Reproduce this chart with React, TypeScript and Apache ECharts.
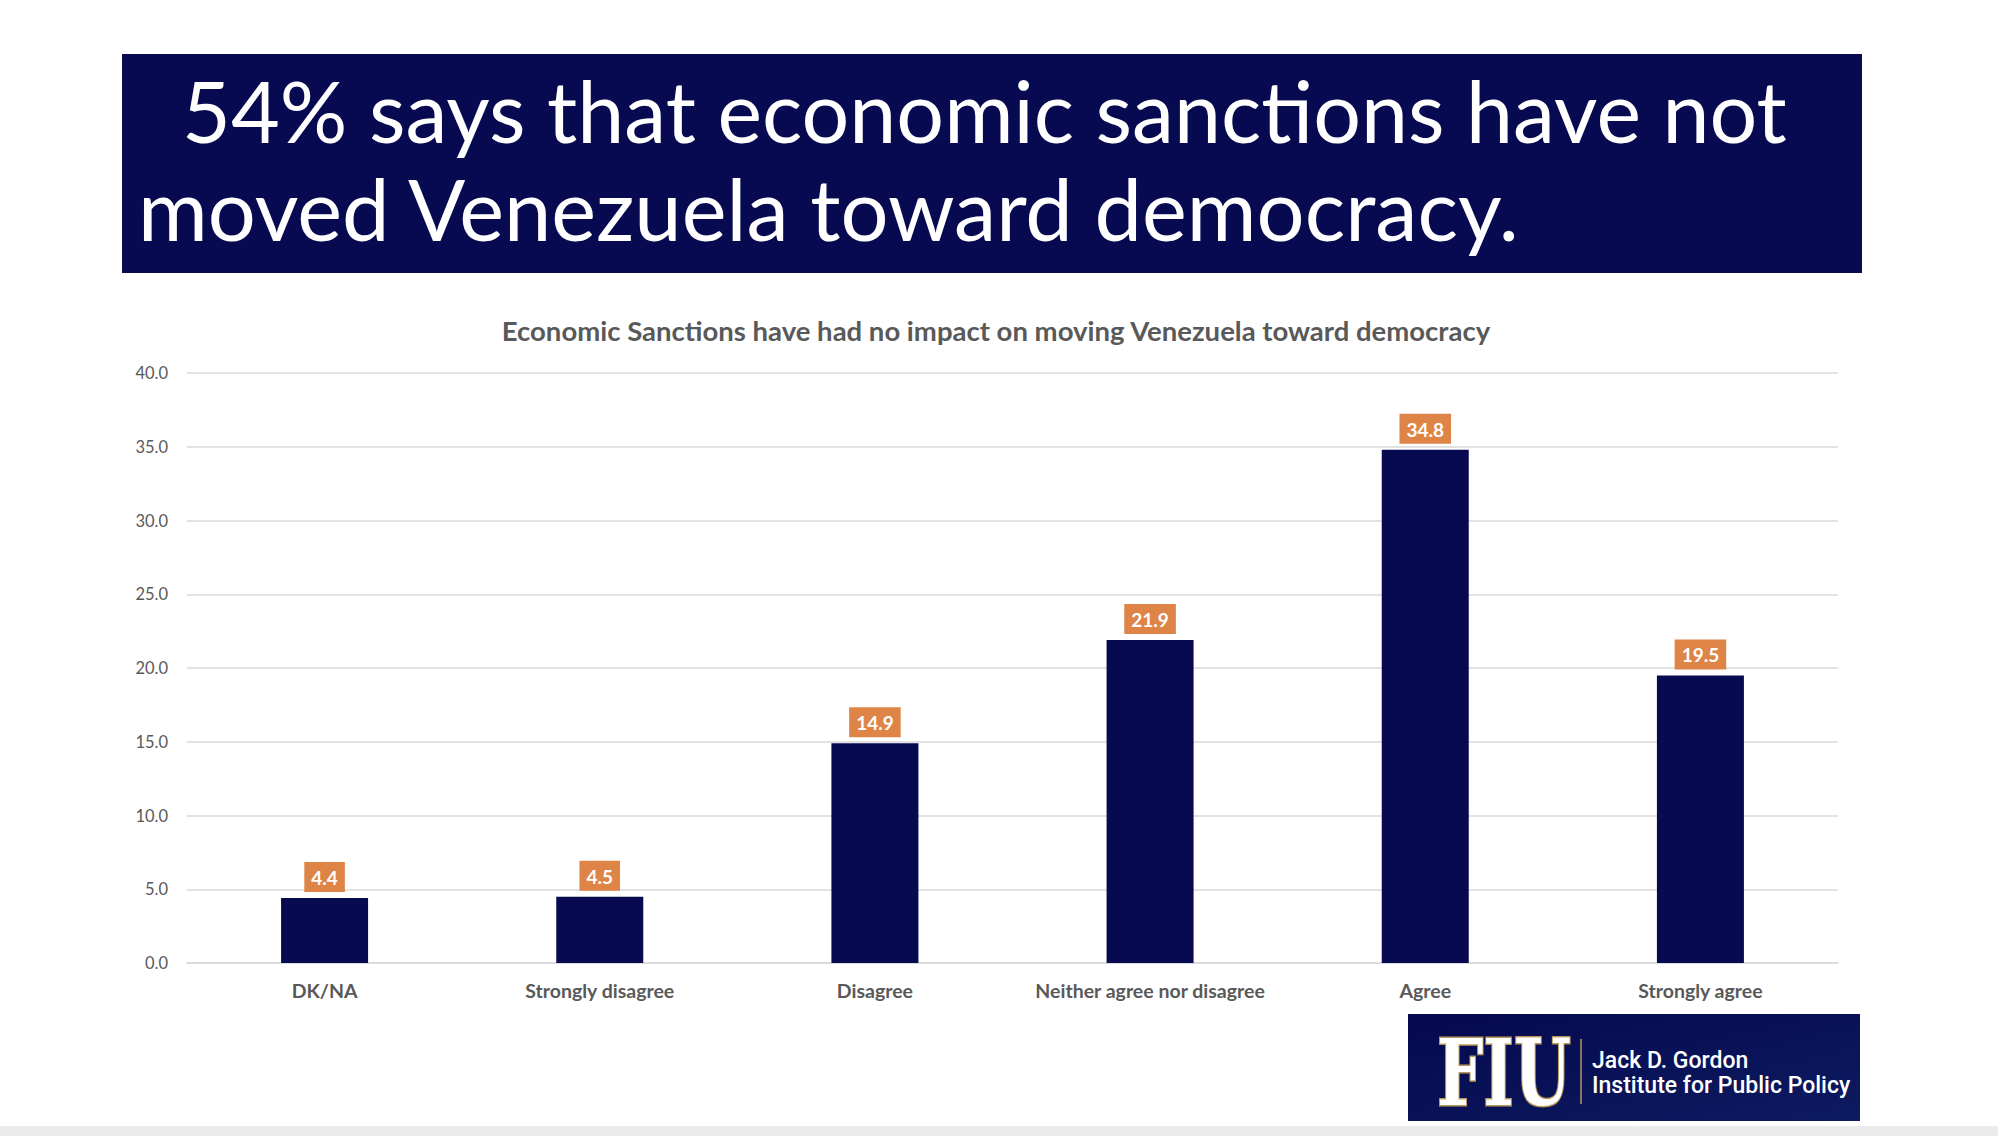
import React, { useEffect, useRef } from "react";
import * as echarts from "echarts";

const categories = ["DK/NA", "Strongly disagree", "Disagree", "Neither agree nor disagree", "Agree", "Strongly agree"];
const values = [4.4, 4.5, 14.9, 21.9, 34.8, 19.5];
const headline1 = "54% says that economic sanctions have not";
const headline2 = "moved Venezuela toward democracy.";
const chartTitle = "Economic Sanctions have had no impact on moving Venezuela toward democracy";
const logoLine1 = "Jack D. Gordon";
const logoLine2 = "Institute for Public Policy";

const NAVY = "#070a50";
const GRAY_TEXT = "#595959";
const ORANGE = "#df8447";

export default function App() {
  const ref = useRef<HTMLDivElement>(null);
  useEffect(() => {
    if (!ref.current) return;
    const chart = echarts.init(ref.current, null, { renderer: "svg" });
    chart.setOption({
      animation: false,
      backgroundColor: "#ebebeb",
      title: {
        text: chartTitle,
        left: 991,
        textAlign: "center",
        top: 311,
        textStyle: { fontFamily: "Lato", fontWeight: "bold", fontSize: 27.5, color: GRAY_TEXT },
      },
      grid: { left: 187, right: 160, top: 373, bottom: 173, containLabel: false },
      xAxis: {
        type: "category",
        data: categories,
        axisLine: { lineStyle: { color: "#d9d9d9", width: 1.5 } },
        axisTick: { show: false },
        axisLabel: {
          interval: 0,
          hideOverlap: false,
          fontFamily: "Lato",
          fontWeight: "bold",
          fontSize: 19.5,
          color: GRAY_TEXT,
          margin: 17,
        },
      },
      yAxis: {
        type: "value",
        min: 0,
        max: 40,
        interval: 5,
        axisLine: { show: false },
        axisTick: { show: false },
        axisLabel: {
          fontFamily: "Lato",
          fontSize: 16.5,
          color: GRAY_TEXT,
          margin: 19,
          formatter: (v: number) => v.toFixed(1),
        },
        splitLine: { lineStyle: { color: "#d9d9d9", width: 1.5 } },
      },
      series: [
        {
          type: "bar",
          data: values,
          barWidth: 87,
          itemStyle: { color: NAVY },
          label: {
            show: true,
            position: "top",
            distance: 6,
            formatter: (p: any) => p.value.toFixed(1),
            backgroundColor: ORANGE,
            color: "#ffffff",
            fontFamily: "Lato",
            fontWeight: "bold",
            fontSize: 19,
            lineHeight: 21,
            padding: [5, 7, 4, 7],
          },
        },
      ],
      graphic: [
        { type: "rect", shape: { x: -30, y: -20, width: 2058, height: 1146, r: 14 }, style: { fill: "#ffffff" }, silent: true, z: -1 },
        { type: "rect", shape: { x: 122, y: 54, width: 1740, height: 219 }, style: { fill: NAVY } },
        {
          type: "text",
          x: 182,
          y: 110,
          style: { text: headline1, fill: "#ffffff", fontFamily: "Lato", fontSize: 84.3, verticalAlign: "middle", align: "left" },
        },
        {
          type: "text",
          x: 138,
          y: 208,
          style: { text: headline2, fill: "#ffffff", fontFamily: "Lato", fontSize: 84.8, verticalAlign: "middle", align: "left" },
        },
        {
          type: "rect",
          shape: { x: 1408, y: 1014, width: 452, height: 107 },
          style: {
            fill: new echarts.graphic.LinearGradient(0, 0, 1, 1, [
              { offset: 0, color: "#05094e" },
              { offset: 1, color: "#0d1b60" },
            ]),
          },
        },
        {
          type: "text",
          x: 1437,
          y: 1073,
          scaleX: 0.71,
          style: {
            text: "FIU",
            fill: "#ffffff",
            stroke: "#b8975a",
            lineWidth: 3,
            fontFamily: "DejaVu Serif",
            fontWeight: "bold",
            fontSize: 92,
            verticalAlign: "middle",
            align: "left",
          },
        },
        { type: "line", shape: { x1: 1581, y1: 1039, x2: 1581, y2: 1104 }, style: { stroke: "#b8975a", lineWidth: 1.5 } },
        {
          type: "text",
          x: 1592,
          y: 1060,
          style: { text: logoLine1, fill: "#ffffff", fontFamily: "Roboto", fontWeight: 500, fontSize: 23, verticalAlign: "middle" },
        },
        {
          type: "text",
          x: 1592,
          y: 1085,
          style: { text: logoLine2, fill: "#ffffff", fontFamily: "Roboto", fontWeight: 500, fontSize: 23, verticalAlign: "middle" },
        },
      ],
    });
    return () => chart.dispose();
  }, []);
  return <div ref={ref} style={{ position: "fixed", left: 0, top: 0, width: 1998, height: 1136 }} />;
}
